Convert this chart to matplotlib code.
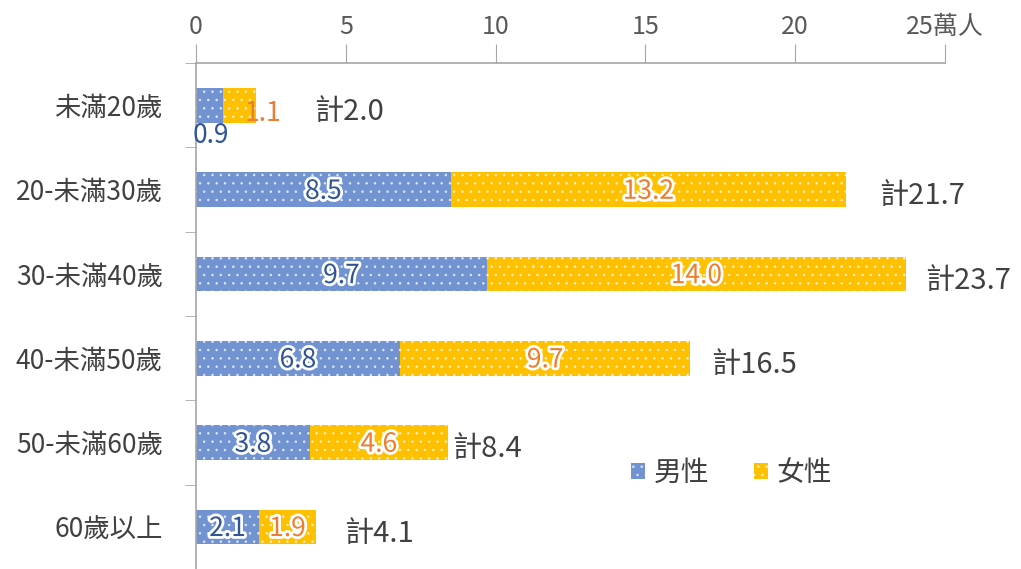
import matplotlib
matplotlib.use("Agg")
import matplotlib.pyplot as plt
import matplotlib.patheffects as pe
import numpy as np

plt.rcParams["font.family"] = ["Noto Sans CJK TC", "DejaVu Sans"]
plt.rcParams["hatch.linewidth"] = 0.6

# 資料
categories = ["未滿20歲", "20-未滿30歲", "30-未滿40歲", "40-未滿50歲", "50-未滿60歲", "60歲以上"]
male = [0.9, 8.5, 9.7, 6.8, 3.8, 2.1]
female = [1.1, 13.2, 14.0, 9.7, 4.6, 1.9]
totals = [2.0, 21.7, 23.7, 16.5, 8.4, 4.1]
xticks = [0, 5, 10, 15, 20, 25]
xtick_labels = ["0", "5", "10", "15", "20", "25萬人"]

# 計 標籤的水平偏移（單位：萬人）
total_offsets = [1.95, 1.1, 0.65, 0.7, 0.15, 0.85]

male_color = "#7193D2"
female_color = "#FFC000"
male_text = "#2F5597"
female_text = "#ED7D31"

fig = plt.figure(figsize=(10.21, 5.69), dpi=100)
ax = fig.add_axes([0.192, 0.0, 0.7336, 0.889])

y = np.arange(len(categories))
h = 0.41
ax.barh(y, male, height=h, color=male_color, edgecolor="#FFFFFFAA", linewidth=0,
        hatch="..", label="男性")
ax.barh(y, female, left=male, height=h, color=female_color, edgecolor="#FFFFFFAA",
        linewidth=0, hatch="..", label="女性")

stroke = [pe.withStroke(linewidth=4, foreground="white")]
for i in range(len(categories)):
    if i == 0:
        # 第一列太窄，標籤放在外面
        ax.text(male[i] / 2 + 0.05, i + 0.36, f"{male[i]:.1f}", ha="center", va="center",
                fontsize=19, color=male_text)
        ax.text(male[i] + female[i] * 1.2, i + 0.1, f"{female[i]:.1f}", ha="center",
                va="center", fontsize=19, color=female_text)
    else:
        ax.text(male[i] / 2, i + 0.02, f"{male[i]:.1f}", ha="center", va="center",
                fontsize=19, color=male_text, path_effects=stroke)
        ax.text(male[i] + female[i] / 2, i + 0.02, f"{female[i]:.1f}", ha="center",
                va="center", fontsize=19, color=female_text, path_effects=stroke)
    ax.text(totals[i] + total_offsets[i], i + 0.08, f"計{totals[i]:.1f}", ha="left",
            va="center", fontsize=21, color="#404040")

ax.set_xlim(0, 25)
ax.set_ylim(len(categories) - 0.5, -0.5)
ax.xaxis.tick_top()
ax.set_xticks(xticks)
ax.set_xticklabels(xtick_labels, fontsize=18, color="#595959", fontweight="light")
ax.tick_params(axis="x", direction="out", length=14, color="#A6A6A6", pad=3)

ax.set_yticks(y)
ax.set_yticklabels(categories, fontsize=19, color="#404040")
ax.set_yticks(np.arange(-0.5, len(categories) + 0.5, 1), minor=True)
ax.tick_params(axis="y", which="major", length=0, pad=24)
ax.tick_params(axis="y", which="minor", length=8, color="#A6A6A6", direction="out")

for s in ["right", "bottom"]:
    ax.spines[s].set_visible(False)
for s in ["left", "top"]:
    ax.spines[s].set_color("#A6A6A6")
    ax.spines[s].set_linewidth(1.2)

ax.legend(loc="center left", bbox_to_anchor=(0.548, 0.19), ncol=2, frameon=False,
          fontsize=20, handlelength=0.5, handleheight=0.5, handletextpad=0.3,
          columnspacing=1.6, labelcolor="#404040")

fig.savefig("out.png", dpi=100)
